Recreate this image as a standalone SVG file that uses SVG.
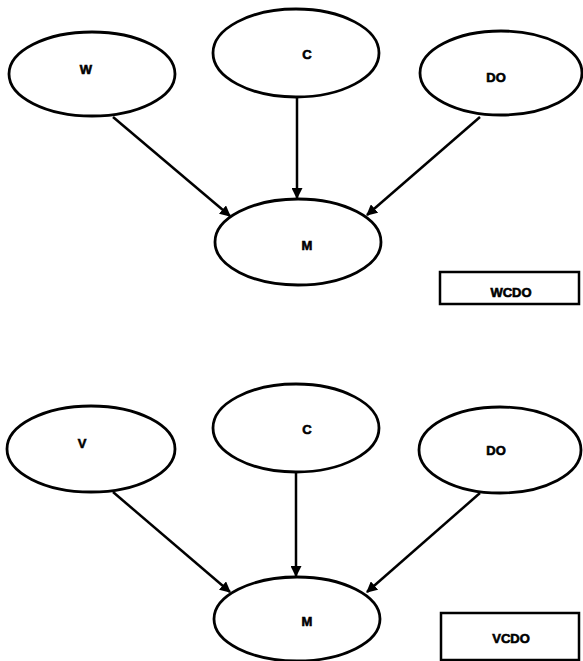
<svg xmlns="http://www.w3.org/2000/svg" width="583" height="661" viewBox="0 0 583 661">
<style>
.n{fill:#fff;stroke:#000;stroke-width:2.8}
.t{font-family:"Liberation Sans",Arial,sans-serif;font-weight:bold;font-size:13px;fill:#000;stroke:#000;stroke-width:0.6;text-anchor:middle;dominant-baseline:central}
.e{stroke:#000;stroke-width:2.5;fill:none;marker-end:url(#ah)}
.b{fill:#fff;stroke:#000;stroke-width:2.5}
</style>
<defs>
<marker id="ah" viewBox="0 0 10 10" refX="9" refY="5" markerWidth="4.4" markerHeight="4.4" orient="auto" markerUnits="strokeWidth">
<path d="M0,0 L10,5 L0,10 z" fill="#000"/>
</marker>
</defs>
<rect width="583" height="661" fill="#fff"/>
<g id="connectors">
<line class="e" x1="113" y1="117" x2="230" y2="216"/>
<line class="e" x1="297" y1="97" x2="297" y2="198"/>
<line class="e" x1="480" y1="117" x2="367" y2="215"/>
<line class="e" x1="113" y1="492" x2="230" y2="592"/>
<line class="e" x1="296" y1="472" x2="296" y2="576"/>
<line class="e" x1="480" y1="493" x2="367" y2="592"/>
</g>
<g id="W"><ellipse class="n" cx="92" cy="74" rx="83" ry="42"/><text class="t" x="86" y="69">W</text></g>
<g id="C1"><ellipse class="n" cx="296" cy="53" rx="83" ry="44"/><text class="t" x="307" y="54">C</text></g>
<g id="DO1"><ellipse class="n" cx="501" cy="73" rx="81" ry="42"/><text class="t" x="496" y="77">DO</text></g>
<g id="M1"><ellipse class="n" cx="298" cy="242" rx="83" ry="43"/><text class="t" x="307" y="245">M</text></g>
<g id="WCDO"><rect class="b" x="440" y="272" width="139" height="32"/><text class="t" x="511" y="292">WCDO</text></g>
<g id="V"><ellipse class="n" cx="91" cy="449" rx="84" ry="43"/><text class="t" x="82" y="443">V</text></g>
<g id="C2"><ellipse class="n" cx="296" cy="428" rx="83" ry="44"/><text class="t" x="307" y="429">C</text></g>
<g id="DO2"><ellipse class="n" cx="500" cy="450" rx="81" ry="43"/><text class="t" x="496" y="450">DO</text></g>
<g id="M2"><ellipse class="n" cx="297" cy="619" rx="83" ry="42"/><text class="t" x="307" y="621">M</text></g>
<g id="VCDO"><rect class="b" x="441" y="613" width="138" height="47"/><text class="t" x="511" y="638">VCDO</text></g>
</svg>
